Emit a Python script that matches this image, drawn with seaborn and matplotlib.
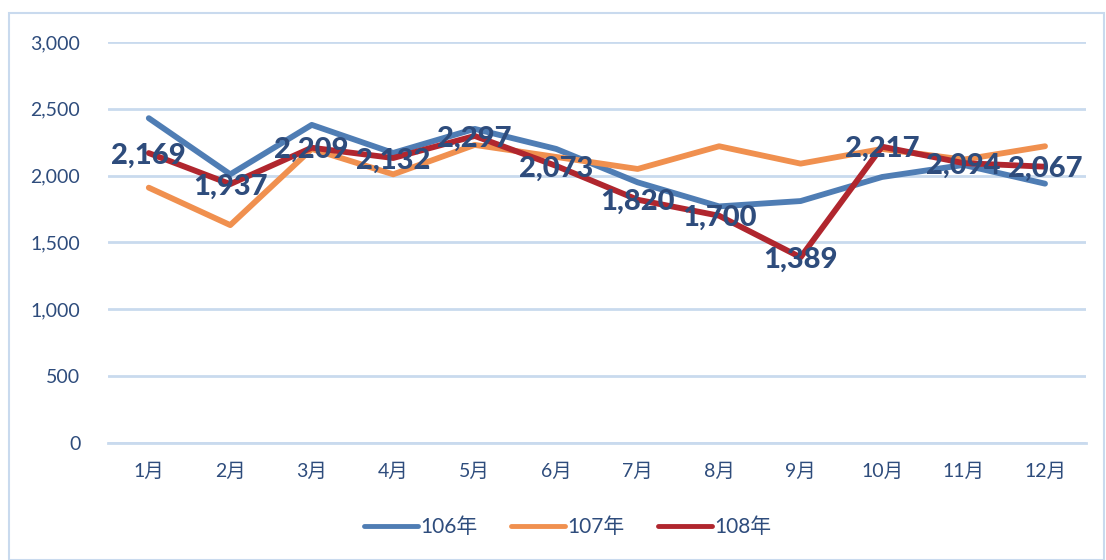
import seaborn as sns
import matplotlib.pyplot as plt
import pandas as pd
import numpy as np

# data
months = ["1月", "2月", "3月", "4月", "5月", "6月", "7月", "8月", "9月", "10月", "11月", "12月"]
y106 = [2430, 2010, 2380, 2170, 2350, 2200, 1950, 1770, 1810, 1990, 2080, 1940]
y107 = [1910, 1630, 2200, 2010, 2230, 2140, 2050, 2220, 2090, 2200, 2120, 2220]
y108 = [2169, 1937, 2209, 2132, 2297, 2073, 1820, 1700, 1389, 2217, 2094, 2067]
series = ["106年", "107年", "108年"]
colors = ["#4F7DB4", "#F0904F", "#B0262E"]

df = pd.DataFrame({
    "月": months * 3,
    "x": list(range(12)) * 3,
    "值": y106 + y107 + y108,
    "年": [s for s in series for _ in months],
})

sns.set_theme(style="white")
plt.rcParams["font.family"] = ["Lato", "Noto Sans CJK TC", "DejaVu Sans"]
text_col = "#2E4C7C"
grid_col = "#C9DAEE"

fig = plt.figure(figsize=(11.06, 5.6), dpi=100)
ax = fig.add_axes([0.0977, 0.209, 0.884, 0.716])

sns.lineplot(data=df, x="x", y="值", hue="年", palette=colors, linewidth=4.2,
             ax=ax, legend=True)
for line in ax.lines:
    line.set_solid_capstyle("round")
    line.set_solid_joinstyle("round")

for i, v in enumerate(y108):
    ax.text(i, v, f"{v:,}", ha="center", va="center_baseline", fontsize=21,
            fontweight="black", color=text_col, zorder=5)

ax.set_xlim(-0.5, 11.5)
ax.set_ylim(0, 3000)
ax.set_yticks(range(0, 3001, 500))
ax.set_yticklabels([f"{v:,}" for v in range(0, 3001, 500)])
ax.set_xticks(range(12))
ax.set_xticklabels(months)
ax.set_xticks(np.arange(-0.5, 12, 1), minor=True)
ax.tick_params(axis="x", which="major", length=0, pad=14, labelsize=14, labelcolor=text_col)
ax.tick_params(axis="x", which="minor", length=8, width=1.5, color=grid_col, direction="out")
ax.tick_params(axis="y", length=0, pad=20, labelsize=14, labelcolor=text_col)
ax.grid(axis="y", color=grid_col, linewidth=2)
ax.set_axisbelow(True)
for s in ["top", "right", "left"]:
    ax.spines[s].set_visible(False)
ax.spines["bottom"].set_color(grid_col)
ax.spines["bottom"].set_linewidth(2)
ax.set_xlabel("")
ax.set_ylabel("")

leg = ax.legend(loc="center", bbox_to_anchor=(0.513, 0.059), bbox_transform=fig.transFigure,
                ncol=3, frameon=False, fontsize=15, handlelength=2.6, columnspacing=1.6,
                handletextpad=0.1)
for t in leg.get_texts():
    t.set_color(text_col)
for h in leg.get_lines():
    h.set_linewidth(3.5)

# outer chart border
fig.patches.append(plt.Rectangle((0.008, 0.0), 0.99, 0.977, transform=fig.transFigure,
                                 fill=False, edgecolor=grid_col, linewidth=1.5))

fig.savefig("out.png", dpi=100)
